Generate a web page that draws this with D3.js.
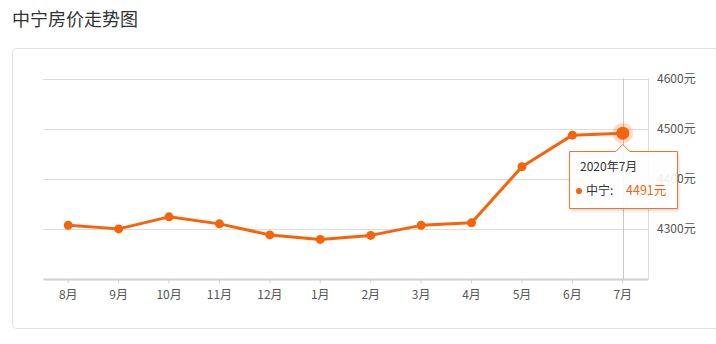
<!DOCTYPE html>
<html>
<head>
<meta charset="utf-8">
<script src="https://cdn.jsdelivr.net/npm/d3@7"></script>
<style>
body { margin: 0; background: #fff; font-family: "Noto Sans CJK SC", "Microsoft YaHei", sans-serif; }
</style>
</head>
<body>
<div id="chart"></div>
<script>
// data
var months = ["8月", "9月", "10月", "11月", "12月", "1月", "2月", "3月", "4月", "5月", "6月", "7月"];
var prices = [4307, 4300, 4324, 4310, 4288, 4279, 4287, 4307, 4312, 4424, 4487, 4491];
var yTicks = [4300, 4400, 4500, 4600];
var seriesName = "中宁";
var tipTitle = "2020年7月";

var W = 716, H = 344;
var orange = "#f5640a";

var svg = d3.select("#chart").append("svg")
	.attr("width", W)
	.attr("height", H);

// title
svg.append("text")
	.attr("x", 12).attr("y", 26)
	.style("font-size", "18px")
	.style("fill", "#333")
	.text("中宁房价走势图");

// card
svg.append("rect")
	.attr("x", 12.5).attr("y", 48.5)
	.attr("width", 720).attr("height", 280)
	.attr("rx", 4)
	.style("fill", "#fff")
	.style("stroke", "#e2e2e2");

var x = d3.scaleBand().domain(months).range([43, 648]);
var y = d3.scaleLinear().domain([4200, 4600]).range([279, 78.5]);
var cx = function(d) { return x(d) + x.bandwidth() / 2; };

// grid
svg.append("g").selectAll("line")
	.data(yTicks)
	.enter().append("line")
	.attr("x1", 43).attr("x2", 648)
	.attr("y1", d => Math.round(y(d)) + 0.5)
	.attr("y2", d => Math.round(y(d)) + 0.5)
	.style("stroke", "#dcdcdc");

// right edge
svg.append("line")
	.attr("x1", 648.5).attr("x2", 648.5)
	.attr("y1", y(4600)).attr("y2", y(4200))
	.style("stroke", "#dcdcdc");

// y labels
svg.append("g").selectAll("text")
	.data(yTicks)
	.enter().append("text")
	.attr("x", 657)
	.attr("y", d => y(d) + 4)
	.style("font-size", "12px")
	.style("fill", "#555")
	.text(d => d + "元");

// x axis
var xAxis = svg.append("g")
	.attr("transform", "translate(0," + 279 + ")")
	.call(d3.axisBottom(x).tickSize(4).tickSizeOuter(0).tickPadding(7));
xAxis.select(".domain").style("stroke", "#d0d0d0").style("stroke-width", 2);
xAxis.selectAll(".tick line").style("stroke", "#ccc");
xAxis.selectAll(".tick text")
	.style("font-size", "12px")
	.style("fill", "#555")
	.style("font-family", "'Noto Sans CJK SC', sans-serif");

// crosshair
var last = months[months.length - 1];
svg.append("line")
	.attr("x1", Math.round(cx(last)) + 0.5).attr("x2", Math.round(cx(last)) + 0.5)
	.attr("y1", y(4600)).attr("y2", y(4200))
	.style("stroke", "#c8c8c8");

// line
var line = d3.line()
	.x((d, i) => cx(months[i]))
	.y(d => y(d));

svg.append("path")
	.datum(prices)
	.attr("d", line)
	.style("fill", "none")
	.style("stroke", orange)
	.style("stroke-width", 3)
	.style("stroke-linejoin", "round");

svg.append("g").selectAll("circle")
	.data(prices.slice(0, -1))
	.enter().append("circle")
	.attr("cx", (d, i) => cx(months[i]))
	.attr("cy", d => y(d))
	.attr("r", 4.5)
	.style("fill", orange);

// active point
var lastVal = prices[prices.length - 1];
svg.append("circle")
	.attr("cx", cx(last)).attr("cy", y(lastVal))
	.attr("r", 10.5)
	.style("fill", orange).style("opacity", 0.22);
svg.append("circle")
	.attr("cx", cx(last)).attr("cy", y(lastVal))
	.attr("r", 6.5)
	.style("fill", orange);

// tooltip
var tx = 569, ty = 151, tw = 108, th = 57;
var px = cx(last);
var defs = svg.append("defs");
var f = defs.append("filter").attr("id", "sh").attr("x", "-20%").attr("y", "-20%").attr("width", "140%").attr("height", "150%");
f.append("feDropShadow").attr("dx", 1).attr("dy", 2).attr("stdDeviation", 1.5).attr("flood-color", "#000").attr("flood-opacity", 0.15);

var tip = svg.append("g");
tip.append("path")
	.attr("d", "M" + (tx + 0.5) + "," + (ty + 0.5)
		+ " L" + (px - 7) + "," + (ty + 0.5)
		+ " L" + px + "," + (ty - 6.5)
		+ " L" + (px + 7) + "," + (ty + 0.5)
		+ " L" + (tx + tw + 0.5) + "," + (ty + 0.5)
		+ " L" + (tx + tw + 0.5) + "," + (ty + th + 0.5)
		+ " L" + (tx + 0.5) + "," + (ty + th + 0.5) + " Z")
	.attr("filter", "url(#sh)")
	.style("fill", "rgba(255,255,255,0.9)")
	.style("stroke", "#f07428");

tip.append("text")
	.attr("x", 580).attr("y", 171)
	.style("font-size", "12px")
	.style("fill", "#333")
	.text(tipTitle);
tip.append("circle")
	.attr("cx", 579).attr("cy", 191)
	.attr("r", 3)
	.style("fill", orange);
tip.append("text")
	.attr("x", 586).attr("y", 195)
	.style("font-size", "12px")
	.style("fill", "#333")
	.text(seriesName + ":");
tip.append("text")
	.attr("x", 626).attr("y", 195)
	.style("font-size", "12.5px")
	.style("fill", orange)
	.text(lastVal + "元");
</script>
</body>
</html>
